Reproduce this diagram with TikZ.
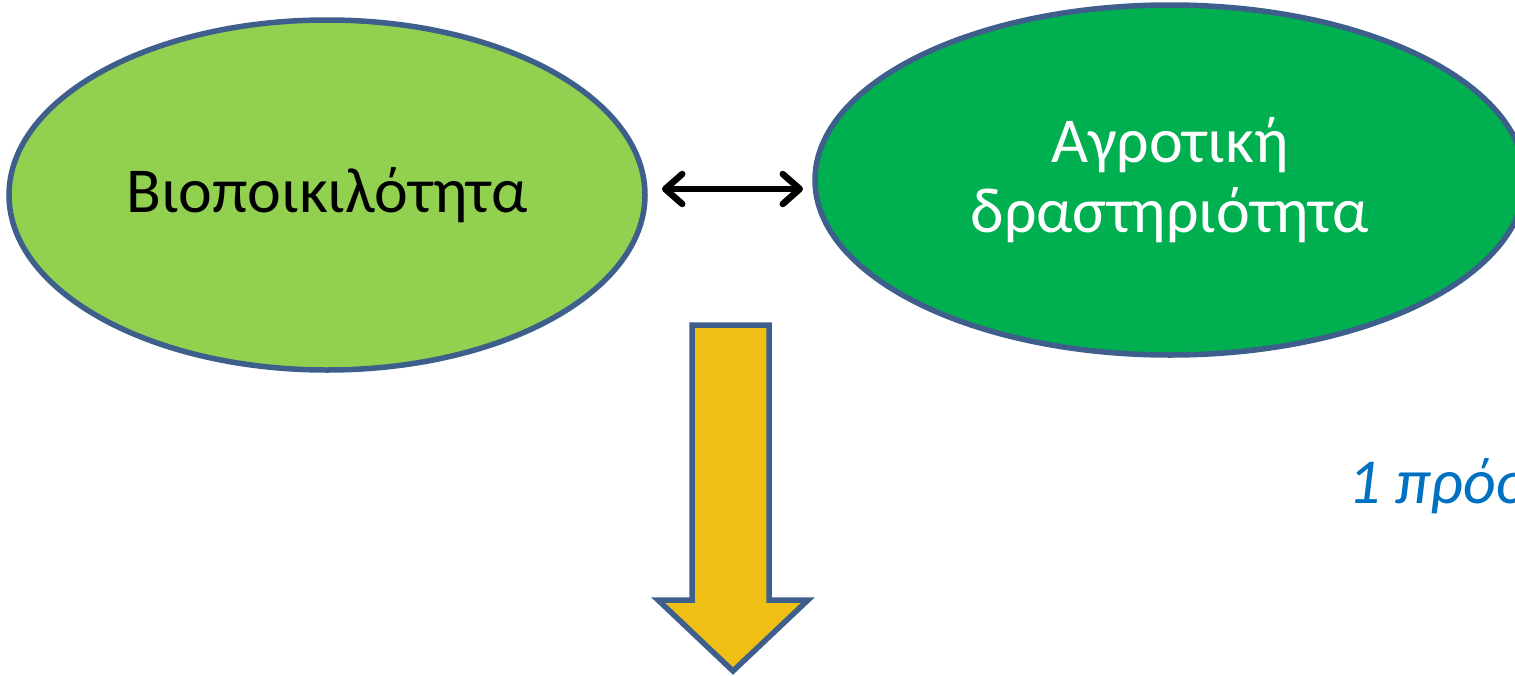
\documentclass[tikz,border=0pt]{standalone}
\usepackage{fontspec}
\setmainfont{Carlito}
\usetikzlibrary{shapes.geometric,arrows.meta}
\definecolor{edgeblue}{HTML}{3E5F8C}
\definecolor{lightgreen}{HTML}{92D050}
\definecolor{darkgreen}{HTML}{00B050}
\definecolor{arrowyellow}{HTML}{EFBF16}
\definecolor{textblue}{HTML}{0070C0}
\tikzset{
  oval/.style={ellipse, draw=edgeblue, line width=5.5pt, inner sep=0pt, align=center,
    font=\fontsize{64}{70}\selectfont},
  dblarrow/.style={line width=6.5pt, line cap=round, black,
    {Straight Barb[length=17pt, width=30pt, line width=6.5pt, round]}-{Straight Barb[length=17pt, width=30pt, line width=6.5pt, round]}},
  bigarrow/.style={draw=edgeblue, fill=arrowyellow, line width=5.5pt, line join=miter},
}
\begin{document}
\begin{tikzpicture}[x=1pt, y=-1pt]
\useasboundingbox (0,0) rectangle (1515,675);
\clip (0,0) rectangle (1515,675);
\node[oval, fill=lightgreen, minimum width=636pt, minimum height=350pt] (L) at (327,195) {\raisebox{-4pt}{Βιοποικιλότητα}};
\node[oval, fill=darkgreen, text=white, minimum width=710pt, minimum height=350pt] (R) at (1170,180) {Αγροτική\\δραστηριότητα};
\coordinate (p) at (662,189);
\coordinate (q) at (803,189);
\draw[dblarrow] (p) -- (q);
\draw[bigarrow] (692,325) -- (769,325) -- (769,600) -- (808,600) -- (733,671) -- (658,600) -- (692,600) -- cycle;
\node[anchor=base west, inner sep=0pt, text=textblue, font=\fontsize{64}{74}\selectfont\itshape] (T) at (1348,503) {1 πρόσ};
\end{tikzpicture}
\end{document}
